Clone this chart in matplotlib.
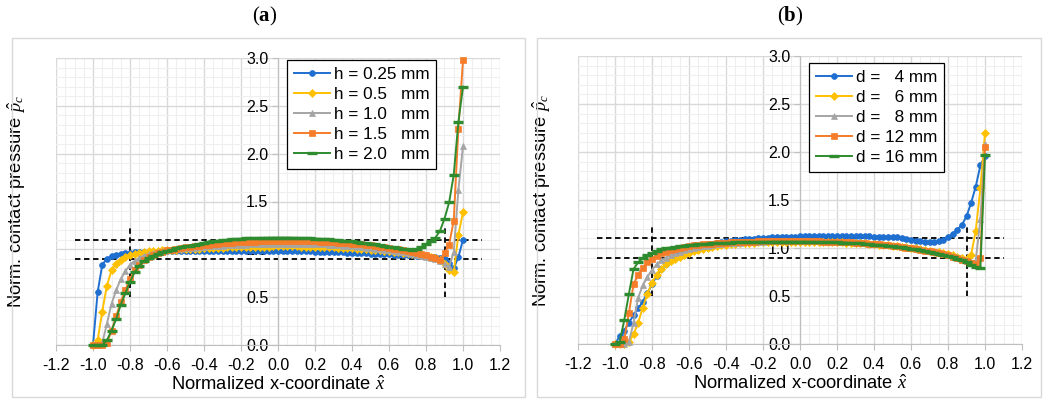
import matplotlib
matplotlib.use('Agg')
import matplotlib.pyplot as plt
from matplotlib.patches import Rectangle
from matplotlib.ticker import MultipleLocator, FormatStrFormatter

plt.rcParams['font.family'] = ['Liberation Sans', 'DejaVu Sans']
plt.rcParams['axes.unicode_minus'] = False
plt.rcParams['mathtext.fontset'] = 'custom'
plt.rcParams['mathtext.rm'] = 'Liberation Serif'
plt.rcParams['mathtext.it'] = 'Liberation Serif:italic'
plt.rcParams['mathtext.bf'] = 'Liberation Serif:bold'

# ---------------- data ----------------
x_nodes = [-1.0, -0.975, -0.95, -0.925, -0.9, -0.875, -0.85, -0.825, -0.8, -0.775,
           -0.75, -0.725, -0.7, -0.675, -0.65, -0.625, -0.6, -0.575, -0.55, -0.525,
           -0.5, -0.475, -0.45, -0.425, -0.4, -0.375, -0.35, -0.325, -0.3, -0.275,
           -0.25, -0.225, -0.2, -0.175, -0.15, -0.125, -0.1, -0.075, -0.05, -0.025,
           0.0, 0.025, 0.05, 0.075, 0.1, 0.125, 0.15, 0.175, 0.2, 0.225,
           0.25, 0.275, 0.3, 0.325, 0.35, 0.375, 0.4, 0.425, 0.45, 0.475,
           0.5, 0.525, 0.55, 0.575, 0.6, 0.625, 0.65, 0.675, 0.7, 0.725,
           0.75, 0.775, 0.8, 0.825, 0.85, 0.875, 0.9, 0.925, 0.95, 0.975,
           1.0]

labels_a = ["h = 0.25 mm", "h = 0.5   mm", "h = 1.0   mm", "h = 1.5   mm", "h = 2.0   mm"]
labels_b = ["d =   4 mm", "d =   6 mm", "d =   8 mm", "d = 12 mm", "d = 16 mm"]

a_h025 = [0.00, 0.55, 0.84, 0.90, 0.93, 0.945, 0.955, 0.96, 0.965, 0.968,
          0.970, 0.972, 0.974, 0.975, 0.976, 0.977, 0.978, 0.978, 0.979, 0.979,
          0.980, 0.980, 0.981, 0.981, 0.981, 0.982, 0.982, 0.982, 0.982, 0.982,
          0.982, 0.982, 0.982, 0.982, 0.982, 0.982, 0.982, 0.982, 0.982, 0.982,
          0.982, 0.982, 0.981, 0.981, 0.980, 0.980, 0.979, 0.978, 0.977, 0.976,
          0.975, 0.974, 0.972, 0.970, 0.968, 0.966, 0.964, 0.962, 0.960, 0.958,
          0.956, 0.954, 0.952, 0.950, 0.948, 0.946, 0.944, 0.942, 0.940, 0.938,
          0.935, 0.932, 0.928, 0.924, 0.918, 0.910, 0.895, 0.86, 0.80, 0.92,
          1.10]
a_h05 = [0.00, 0.05, 0.35, 0.62, 0.78, 0.85, 0.89, 0.92, 0.94, 0.955,
         0.965, 0.972, 0.978, 0.983, 0.987, 0.990, 0.993, 0.996, 0.998, 1.000,
         1.002, 1.004, 1.006, 1.008, 1.010, 1.012, 1.014, 1.016, 1.018, 1.020,
         1.021, 1.022, 1.023, 1.024, 1.025, 1.026, 1.027, 1.028, 1.029, 1.030,
         1.030, 1.030, 1.030, 1.030, 1.030, 1.029, 1.028, 1.027, 1.026, 1.025,
         1.024, 1.022, 1.020, 1.018, 1.016, 1.013, 1.010, 1.007, 1.004, 1.000,
         0.996, 0.992, 0.988, 0.984, 0.980, 0.975, 0.970, 0.965, 0.960, 0.954,
         0.948, 0.940, 0.932, 0.922, 0.910, 0.890, 0.850, 0.78, 0.76, 1.15,
         1.39]
a_h10 = [0.00, 0.00, 0.02, 0.22, 0.43, 0.57, 0.69, 0.77, 0.84, 0.88,
         0.91, 0.935, 0.95, 0.963, 0.975, 0.983, 0.99, 0.995, 1.000, 1.005,
         1.010, 1.014, 1.018, 1.022, 1.026, 1.030, 1.033, 1.036, 1.039, 1.042,
         1.044, 1.046, 1.048, 1.050, 1.052, 1.054, 1.056, 1.057, 1.058, 1.059,
         1.060, 1.060, 1.060, 1.060, 1.059, 1.058, 1.057, 1.056, 1.055, 1.053,
         1.051, 1.049, 1.046, 1.043, 1.040, 1.036, 1.032, 1.028, 1.024, 1.019,
         1.014, 1.008, 1.002, 0.996, 0.990, 0.983, 0.976, 0.968, 0.960, 0.952,
         0.943, 0.933, 0.922, 0.910, 0.895, 0.875, 0.85, 0.82, 0.97, 1.62,
         2.08]
a_h15 = [0.00, 0.00, 0.00, 0.02, 0.15, 0.30, 0.45, 0.58, 0.69, 0.78,
         0.84, 0.885, 0.92, 0.945, 0.96, 0.975, 0.99, 0.998, 1.005, 1.012,
         1.02, 1.026, 1.032, 1.038, 1.044, 1.049, 1.054, 1.058, 1.062, 1.066,
         1.069, 1.072, 1.075, 1.077, 1.079, 1.081, 1.083, 1.084, 1.085, 1.086,
         1.086, 1.087, 1.087, 1.087, 1.086, 1.086, 1.085, 1.084, 1.083, 1.081,
         1.079, 1.077, 1.074, 1.071, 1.068, 1.064, 1.060, 1.056, 1.051, 1.046,
         1.041, 1.035, 1.029, 1.022, 1.015, 1.008, 1.000, 0.992, 0.983, 0.973,
         0.963, 0.952, 0.940, 0.925, 0.905, 0.890, 0.96, 1.05, 1.30, 2.26,
         2.98]
a_h20 = [0.00, 0.00, 0.00, 0.05, 0.15, 0.27, 0.42, 0.54, 0.66, 0.76,
         0.83, 0.875, 0.91, 0.935, 0.955, 0.97, 0.985, 0.998, 1.01, 1.02,
         1.03, 1.04, 1.05, 1.06, 1.07, 1.077, 1.084, 1.09, 1.095, 1.10,
         1.104, 1.108, 1.111, 1.114, 1.116, 1.118, 1.119, 1.120, 1.121, 1.122,
         1.122, 1.122, 1.122, 1.121, 1.120, 1.119, 1.117, 1.115, 1.113, 1.110,
         1.107, 1.104, 1.100, 1.096, 1.092, 1.087, 1.082, 1.077, 1.071, 1.065,
         1.058, 1.051, 1.044, 1.036, 1.028, 1.020, 1.012, 1.005, 1.000, 0.998,
         1.005, 1.025, 1.055, 1.09, 1.12, 1.19, 1.32, 1.49, 1.78, 2.33,
         2.70]

b_d4 = [0.00, 0.08, 0.14, 0.22, 0.30, 0.37, 0.44, 0.53, 0.62, 0.71,
        0.78, 0.83, 0.88, 0.91, 0.945, 0.965, 0.985, 0.998, 1.01, 1.02,
        1.03, 1.04, 1.05, 1.06, 1.07, 1.076, 1.082, 1.087, 1.091, 1.095,
        1.099, 1.102, 1.105, 1.108, 1.111, 1.113, 1.115, 1.117, 1.118, 1.119,
        1.120, 1.121, 1.122, 1.123, 1.124, 1.124, 1.124, 1.124, 1.124, 1.124,
        1.123, 1.123, 1.122, 1.122, 1.121, 1.120, 1.119, 1.118, 1.117, 1.116,
        1.114, 1.110, 1.100, 1.090, 1.082, 1.075, 1.070, 1.066, 1.065, 1.066,
        1.070, 1.080, 1.110, 1.150, 1.190, 1.240, 1.33, 1.47, 1.64, 1.86,
        1.96]
b_d6 = [0.00, 0.00, 0.00, 0.02, 0.10, 0.22, 0.38, 0.52, 0.64, 0.72,
        0.785, 0.83, 0.86, 0.89, 0.91, 0.93, 0.95, 0.965, 0.98, 0.99,
        1.00, 1.01, 1.02, 1.028, 1.035, 1.04, 1.045, 1.049, 1.052, 1.055,
        1.057, 1.059, 1.061, 1.062, 1.063, 1.064, 1.065, 1.065, 1.066, 1.066,
        1.066, 1.066, 1.066, 1.065, 1.065, 1.064, 1.063, 1.062, 1.061, 1.059,
        1.057, 1.055, 1.053, 1.050, 1.047, 1.044, 1.040, 1.036, 1.032, 1.028,
        1.024, 1.019, 1.014, 1.008, 1.002, 0.995, 0.988, 0.980, 0.972, 0.963,
        0.954, 0.944, 0.933, 0.922, 0.910, 0.898, 0.885, 0.93, 1.18, 1.62,
        2.20]
b_d8 = [0.00, 0.00, 0.00, 0.02, 0.22, 0.48, 0.61, 0.70, 0.77, 0.83,
        0.87, 0.90, 0.925, 0.945, 0.96, 0.975, 0.99, 1.0, 1.01, 1.018,
        1.025, 1.031, 1.037, 1.042, 1.047, 1.051, 1.054, 1.057, 1.06, 1.062,
        1.064, 1.066, 1.067, 1.068, 1.069, 1.07, 1.07, 1.071, 1.071, 1.071,
        1.071, 1.071, 1.07, 1.07, 1.069, 1.068, 1.067, 1.066, 1.065, 1.063,
        1.061, 1.059, 1.056, 1.053, 1.05, 1.046, 1.042, 1.038, 1.034, 1.03,
        1.025, 1.02, 1.014, 1.008, 1.002, 0.995, 0.987, 0.979, 0.97, 0.961,
        0.951, 0.94, 0.928, 0.915, 0.902, 0.888, 0.873, 0.855, 0.87, 1.30,
        2.08]
b_d12 = [0.00, 0.00, 0.05, 0.32, 0.62, 0.72, 0.795, 0.85, 0.89, 0.92,
         0.945, 0.96, 0.975, 0.988, 1.0, 1.01, 1.02, 1.027, 1.033, 1.038,
         1.042, 1.046, 1.05, 1.053, 1.056, 1.059, 1.061, 1.063, 1.065, 1.066,
         1.067, 1.068, 1.069, 1.07, 1.07, 1.071, 1.071, 1.071, 1.071, 1.071,
         1.071, 1.07, 1.07, 1.069, 1.068, 1.067, 1.066, 1.065, 1.064, 1.062,
         1.06, 1.058, 1.055, 1.052, 1.049, 1.045, 1.041, 1.037, 1.033, 1.028,
         1.023, 1.017, 1.011, 1.005, 0.998, 0.99, 0.982, 0.974, 0.965, 0.956,
         0.946, 0.935, 0.923, 0.91, 0.896, 0.88, 0.862, 0.84, 0.83, 0.90,
         2.05]
b_d16 = [0.00, 0.02, 0.25, 0.52, 0.78, 0.85, 0.895, 0.925, 0.95, 0.97,
         0.985, 0.995, 1.005, 1.013, 1.02, 1.025, 1.03, 1.034, 1.038, 1.041,
         1.044, 1.047, 1.05, 1.052, 1.054, 1.056, 1.058, 1.059, 1.06, 1.061,
         1.062, 1.063, 1.064, 1.064, 1.065, 1.065, 1.065, 1.065, 1.065, 1.065,
         1.065, 1.065, 1.064, 1.064, 1.063, 1.062, 1.061, 1.06, 1.059, 1.057,
         1.055, 1.053, 1.05, 1.047, 1.044, 1.04, 1.036, 1.032, 1.028, 1.024,
         1.019, 1.013, 1.007, 1.0, 0.993, 0.986, 0.978, 0.97, 0.961, 0.951,
         0.94, 0.929, 0.917, 0.904, 0.89, 0.875, 0.855, 0.82, 0.80, 0.79,
         1.97]

series_a = [a_h025, a_h05, a_h10, a_h15, a_h20]
series_b = [b_d4, b_d6, b_d8, b_d12, b_d16]

band_levels = [0.9, 1.1]        # horizontal dashed lines
band_extent = [-1.1, 1.1]
edge_marks = [-0.8, 0.9]        # vertical dashed lines
edge_extent = [0.5, 1.25]

x_ticks = [-1.2, -1.0, -0.8, -0.6, -0.4, -0.2, 0.0, 0.2, 0.4, 0.6, 0.8, 1.0, 1.2]
y_ticks = [0.0, 0.5, 1.0, 1.5, 2.0, 2.5, 3.0]

# ---------------- styles ----------------
colors = ['#1f6fd0', '#ffc000', '#a5a5a5', '#f57c28', '#2e8b2e']
markers = ['o', 'D', '^', 's', '_']
msizes = [4.2, 3.6, 4.5, 4.5, 6.5]
mews = [0.5, 0.5, 0.5, 0.5, 2.4]

fig = plt.figure(figsize=(10.48, 4.03), dpi=100)

# panel frames
fig.patches.append(Rectangle((12/1048, 6/403), (525-12)/1048, (365-6)/403,
                             transform=fig.transFigure, fill=False,
                             edgecolor='#d9d9d9', lw=1.0))
fig.patches.append(Rectangle((537/1048, 6/403), (1041-537)/1048, (365-6)/403,
                             transform=fig.transFigure, fill=False,
                             edgecolor='#d9d9d9', lw=1.0))

def draw(ax, series, labels, leg_anchor):
    ax.set_xlim(-1.2, 1.2)
    ax.set_ylim(0, 3.0)
    ax.xaxis.set_minor_locator(MultipleLocator(0.05))
    ax.yaxis.set_minor_locator(MultipleLocator(0.1))
    ax.set_xticks(x_ticks)
    ax.set_yticks(y_ticks)
    ax.xaxis.set_major_formatter(FormatStrFormatter('%.1f'))
    ax.yaxis.set_major_formatter(FormatStrFormatter('%.1f'))
    ax.grid(which='minor', color='#efefef', lw=0.8, zorder=0)
    ax.grid(which='major', color='#d9d9d9', lw=1.0, zorder=0)
    ax.set_axisbelow(True)
    for s in ['top', 'right']:
        ax.spines[s].set_visible(False)
    ax.spines['left'].set_position(('data', 0))
    ax.spines['left'].set_color('#bfbfbf')
    ax.spines['bottom'].set_color('#bfbfbf')
    ax.tick_params(which='major', length=4, color='#bfbfbf', labelsize=11.5,
                   labelcolor='#000000')
    ax.tick_params(axis='x', pad=5)
    ax.tick_params(axis='y', pad=3)
    ax.tick_params(which='minor', length=0)

    for yv in band_levels:
        ax.plot(band_extent, [yv, yv], color='black', lw=1.3,
                dashes=(3, 2), zorder=2)
    for xv in edge_marks:
        ax.plot([xv, xv], edge_extent, color='black', lw=1.3,
                dashes=(3, 2), zorder=2)

    for ys, lab, c, m, ms, mew in zip(series, labels, colors, markers, msizes, mews):
        ax.plot(x_nodes, ys, color=c, lw=1.4, marker=m, ms=ms,
                markerfacecolor=c, markeredgecolor=c, mew=mew,
                label=lab, zorder=3, clip_on=False)

    ax.set_xlabel(r'Normalized x-coordinate $\hat{x}$', fontsize=13.2, labelpad=2)
    ax.set_ylabel(r'Norm. contact pressure $\hat{p}_c$', fontsize=13.2)
    leg = ax.legend(loc='upper left', bbox_to_anchor=leg_anchor,
                    frameon=True, fancybox=False, framealpha=1,
                    edgecolor='black', fontsize=12.3, handlelength=2.1,
                    handletextpad=0.25, labelspacing=0.3, borderpad=0.4,
                    borderaxespad=0)
    leg.get_frame().set_linewidth(0.9)
    leg.set_zorder(5)

ax_a = fig.add_axes([56/1048, 0.1439, 444/1048, 0.7122])
draw(ax_a, series_a, labels_a, (0.52, 0.993))
ax_a.yaxis.set_label_coords(-0.063, 0.5)

ax_b = fig.add_axes([578/1048, 0.1464, 444/1048, 0.7146])
draw(ax_b, series_b, labels_b, (0.52, 0.976))
ax_b.yaxis.set_label_coords(-0.056, 0.5)

fig.text(265/1048, 1 - 16/403, r'($\mathbf{a}$)', ha='center', va='center',
         fontsize=15, family='Liberation Serif')
fig.text(790/1048, 1 - 16/403, r'($\mathbf{b}$)', ha='center', va='center',
         fontsize=15, family='Liberation Serif')

fig.savefig('out.png', dpi=100)
